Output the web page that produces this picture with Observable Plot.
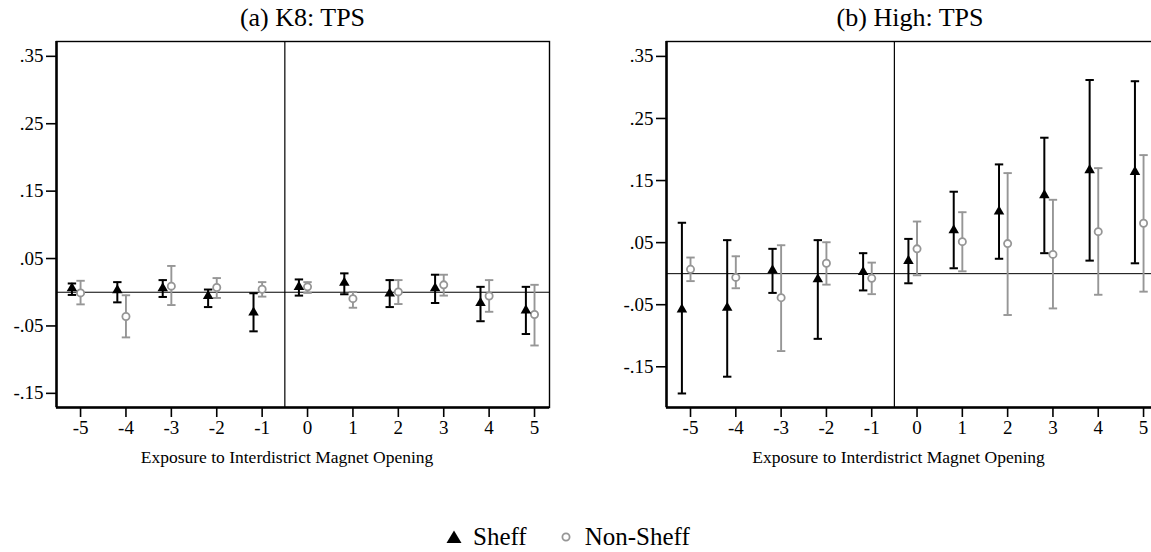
<!DOCTYPE html>
<html>
<head>
<meta charset="utf-8">
<script src="https://cdn.jsdelivr.net/npm/d3@7"></script>
<script src="https://cdn.jsdelivr.net/npm/@observablehq/plot@0.6"></script>
<style>
  html, body { margin: 0; padding: 0; background: #fff; overflow: hidden; width: 1151px; height: 552px; }
  #wrap { position: relative; width: 1151px; height: 552px; font-family: "Liberation Serif", serif; overflow: hidden; }
  .panel { position: absolute; top: 0; }
  .panel svg { max-width: none !important; }
  .title { position: absolute; top: 4px; font-family: "Liberation Serif", serif; font-size: 26px; text-align: center; color: #000; line-height: 28px; }
  #legend { position: absolute; top: 524px; left: 446px; height: 26px; font-family: "Liberation Serif", serif; font-size: 25px; line-height: 26px; white-space: nowrap; display: flex; align-items: center; }
  #legend span.item { display: inline-flex; align-items: center; height: 26px; }
  #legend svg { margin-right: 11px; display: block; }
</style>
</head>
<body>
<div id="wrap">
  <div class="title" id="t1" style="left:56px;width:493px;">(a) K8: TPS</div>
  <div class="title" id="t2" style="left:664px;width:492px;">(b) High: TPS</div>
  <div class="panel" id="p1" style="left:0px;width:575px;"></div>
  <div class="panel" id="p2" style="left:575px;width:600px;"></div>
  <div id="legend">
    <span class="item" style="margin-right:31px;"><svg width="16" height="16" viewBox="-8 -8 16 16"><path d="M0,-6.5L7.5,6L-7.5,6Z" fill="#000"/></svg>Sheff</span>
    <span class="item"><svg width="16" height="16" viewBox="-8 -8 16 16" style="margin-right:11px;"><circle r="3.6" fill="none" stroke="#969696" stroke-width="1.8"/></svg>Non-Sheff</span>
  </div>
</div>
<script>
// Event time (exposure) categories
const periods = [-5, -4, -3, -2, -1, 0, 1, 2, 3, 4, 5];
const xTicks = [-5, -4, -3, -2, -1, 0, 1, 2, 3, 4, 5];
const yTicks = [-0.15, -0.05, 0.05, 0.15, 0.25, 0.35];
const xLabel = "Exposure to Interdistrict Magnet Opening";

// Panel (a) K8: TPS
const k8SheffEst = [0.006, 0.003, 0.006, -0.0055, -0.030, 0.008, 0.014, -0.002, 0.006, -0.016, -0.027];
const k8SheffLo  = [-0.004, -0.015, -0.007, -0.022, -0.058, -0.005, -0.003, -0.022, -0.016, -0.043, -0.062];
const k8SheffHi  = [0.013, 0.015, 0.018, 0.004, -0.0015, 0.019, 0.028, 0.018, 0.026, 0.008, 0.008];
const k8NonEst   = [-0.001, -0.036, 0.009, 0.007, 0.0045, 0.008, -0.0095, 0.0005, 0.011, -0.0055, -0.033];
const k8NonLo    = [-0.018, -0.067, -0.019, -0.0085, -0.0065, -0.001, -0.023, -0.0175, -0.005, -0.029, -0.079];
const k8NonHi    = [0.017, -0.0045, 0.039, 0.021, 0.015, 0.015, 0.0005, 0.018, 0.026, 0.018, 0.011];

// Panel (b) High: TPS
const hiSheffEst = [-0.0575, -0.055, 0.0055, -0.009, 0.0027, 0.0205, 0.070, 0.100, 0.1265, 0.1668, 0.164];
const hiSheffLo  = [-0.193, -0.166, -0.031, -0.105, -0.027, -0.0155, 0.0087, 0.024, 0.033, 0.021, 0.0167];
const hiSheffHi  = [0.082, 0.054, 0.040, 0.054, 0.033, 0.056, 0.132, 0.176, 0.219, 0.312, 0.310];
const hiNonEst   = [0.007, -0.006, -0.0387, 0.0167, -0.0075, 0.040, 0.0516, 0.0484, 0.031, 0.0677, 0.0813];
const hiNonLo    = [-0.012, -0.0235, -0.1247, -0.0177, -0.033, -0.0026, 0.0038, -0.0666, -0.056, -0.034, -0.029];
const hiNonHi    = [0.026, 0.028, 0.0458, 0.0506, 0.0178, 0.084, 0.099, 0.162, 0.119, 0.170, 0.191];

const sheffOffset = -0.19; // Sheff plotted slightly left of each period
const gray = "#969696";
const xDomain = [-5.53, 5.33];

function rows(est, lo, hi, off) {
  return periods.map((p, i) => ({x: p + off, est: est[i], lo: lo[i], hi: hi[i]}));
}

const capSymbol = {draw(ctx) { ctx.moveTo(-4.2, 0); ctx.lineTo(4.2, 0); }};
const fmtY = d => (d < 0 ? "-" : "") + Math.abs(d).toFixed(2).replace(/^0/, "");

function panel(sheff, non, opts) {
  return Plot.plot({
    width: opts.width,
    height: 480,
    marginTop: 41,
    marginBottom: 73,
    marginLeft: opts.ml,
    marginRight: opts.mr,
    style: "font-family: 'Liberation Serif', serif; font-size: 19px; background: transparent; color: #000; overflow: visible; max-width: none;",
    x: {domain: xDomain},
    y: {domain: opts.ydomain},
    marks: [
      Plot.ruleY([0], {stroke: "#000", strokeWidth: 1}),
      Plot.ruleX([-0.5], {stroke: "#000", strokeWidth: 1.2}),
      // Non-Sheff
      Plot.ruleX(non, {x: "x", y1: "lo", y2: "hi", stroke: gray, strokeWidth: 1.9}),
      Plot.dot(non, {x: "x", y: "lo", symbol: capSymbol, stroke: gray, strokeWidth: 1.9, fill: "none"}),
      Plot.dot(non, {x: "x", y: "hi", symbol: capSymbol, stroke: gray, strokeWidth: 1.9, fill: "none"}),
      Plot.dot(non, {x: "x", y: "est", symbol: "circle", r: 3.6, stroke: gray, strokeWidth: 1.8, fill: "white"}),
      // Sheff
      Plot.ruleX(sheff, {x: "x", y1: "lo", y2: "hi", stroke: "#000", strokeWidth: 2}),
      Plot.dot(sheff, {x: "x", y: "lo", symbol: capSymbol, stroke: "#000", strokeWidth: 2, fill: "none"}),
      Plot.dot(sheff, {x: "x", y: "hi", symbol: capSymbol, stroke: "#000", strokeWidth: 2, fill: "none"}),
      Plot.dot(sheff, {x: "x", y: "est", symbol: "triangle", r: 3.9, fill: "#000", stroke: "none"}),
      Plot.frame({stroke: "#000", strokeWidth: 1.4}),
      Plot.axisX({ticks: xTicks, tickFormat: d => String(d), tickSize: 10, tickPadding: 3, strokeWidth: 1.6,
        label: null, fontSize: 19}),
      Plot.axisY({ticks: yTicks, tickFormat: fmtY, tickSize: 10, tickPadding: 3, strokeWidth: 1.6, label: null, fontSize: 19}),
      Plot.text([xLabel], {frameAnchor: "bottom", dy: 55, dx: opts.labelDx, text: d => d, fontSize: 17.5, fill: "#000"}),
      Plot.ruleY([opts.ydomain[0]], {stroke: "#000", strokeWidth: 2.5}),
      Plot.ruleX([xDomain[0]], {stroke: "#000", strokeWidth: 2.5})
    ]
  });
}

const k8Sheff = rows(k8SheffEst, k8SheffLo, k8SheffHi, sheffOffset);
const k8Non = rows(k8NonEst, k8NonLo, k8NonHi, 0);
const hiSheff = rows(hiSheffEst, hiSheffLo, hiSheffHi, sheffOffset);
const hiNon = rows(hiNonEst, hiNonLo, hiNonHi, 0);

document.getElementById("p1").append(panel(k8Sheff, k8Non, {width: 575, ml: 56, mr: 26, ydomain: [-0.171, 0.372], labelDx: -16}));
document.getElementById("p2").append(panel(hiSheff, hiNon, {width: 600, ml: 91, mr: 17, ydomain: [-0.2156, 0.374], labelDx: -14}));
</script>
</body>
</html>
